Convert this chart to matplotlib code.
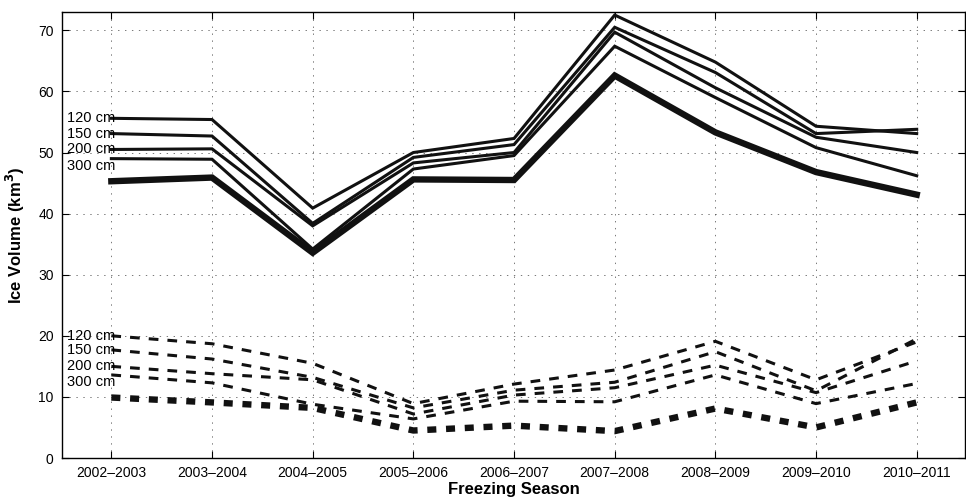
import matplotlib
matplotlib.use("Agg")
import matplotlib.pyplot as plt
import numpy as np

plt.rcParams['font.family'] = ['Liberation Sans', 'DejaVu Sans']
plt.rcParams['lines.scale_dashes'] = False

seasons = ['2002\u20132003', '2003\u20132004', '2004\u20132005', '2005\u20132006',
           '2006\u20132007', '2007\u20132008', '2008\u20132009', '2009\u20132010',
           '2010\u20132011']
depth_labels = ['120 cm', '150 cm', '200 cm', '300 cm']

# solid lines (upper group)
solid_120 = [55.6, 55.4, 40.9, 50.0, 52.3, 72.5, 64.8, 54.3, 53.1]
solid_150 = [53.1, 52.7, 38.4, 49.2, 51.3, 70.5, 63.1, 53.1, 53.8]
solid_200 = [50.5, 50.6, 38.0, 48.3, 50.0, 69.7, 60.6, 52.5, 50.0]
solid_300 = [49.0, 48.9, 34.2, 47.3, 49.5, 67.4, 59.0, 50.8, 46.2]
solid_all = [45.3, 45.9, 33.6, 45.6, 45.5, 62.6, 53.3, 46.8, 43.1]

# dashed lines (lower group)
dash_120 = [20.0, 18.7, 15.5, 8.9, 12.1, 14.4, 19.1, 12.8, 19.0]
dash_150 = [17.7, 16.2, 13.2, 8.2, 11.1, 12.4, 17.4, 11.0, 19.5]
dash_200 = [15.0, 13.8, 12.8, 7.2, 10.3, 11.5, 15.2, 10.7, 15.9]
dash_300 = [13.6, 12.3, 8.8, 6.4, 9.3, 9.2, 13.6, 8.9, 12.2]
dash_all = [9.9, 9.1, 8.2, 4.5, 5.3, 4.4, 8.1, 5.0, 9.1]

x = np.arange(len(seasons))

fig = plt.figure(figsize=(9.66, 5.0), dpi=100)
ax = fig.add_axes([0.0642, 0.084, 0.9348, 0.892])

for s in [solid_120, solid_150, solid_200, solid_300]:
    ax.plot(x, s, color='#111111', lw=2.2, solid_joinstyle='miter')
ax.plot(x, solid_all, color='#111111', lw=4.6, solid_joinstyle='miter')

for s in [dash_120, dash_150, dash_200, dash_300]:
    ax.plot(x, s, color='#111111', lw=2.2, dashes=(7.0, 6.5), dash_capstyle='butt')
ax.plot(x, dash_all, color='#111111', lw=4.6, dashes=(6.5, 7.0), dash_capstyle='butt')

# curve labels at the left end
offsets = [0, 0, 0, -1.2]
for lab, s, off in zip(depth_labels, [solid_120, solid_150, solid_200, solid_300], offsets):
    ax.text(-0.44, s[0] + off, lab, ha='left', va='center', fontsize=10.5)
for lab, s, off in zip(depth_labels, [dash_120, dash_150, dash_200, dash_300], offsets):
    ax.text(-0.44, s[0] + off, lab, ha='left', va='center', fontsize=10.5)

ax.set_xlim(-0.49, 8.48)
ax.set_ylim(0, 73)
ax.set_xticks(x)
ax.set_xticklabels(seasons)
ax.set_yticks(np.arange(0, 71, 10))
ax.tick_params(direction='in', top=True, right=True, length=5, width=0.8,
               labelsize=10, pad=6)
ax.grid(True, color='#444444', linestyle=(0, (1, 4)), lw=0.5)
for sp in ax.spines.values():
    sp.set_linewidth(1.0)

ax.set_xlabel('Freezing Season', fontsize=12, fontweight='bold', labelpad=1)
ax.set_ylabel('Ice Volume (km$^\\mathbf{3}$)', fontsize=12, fontweight='bold', labelpad=8)

fig.savefig('out.png', dpi=100)
